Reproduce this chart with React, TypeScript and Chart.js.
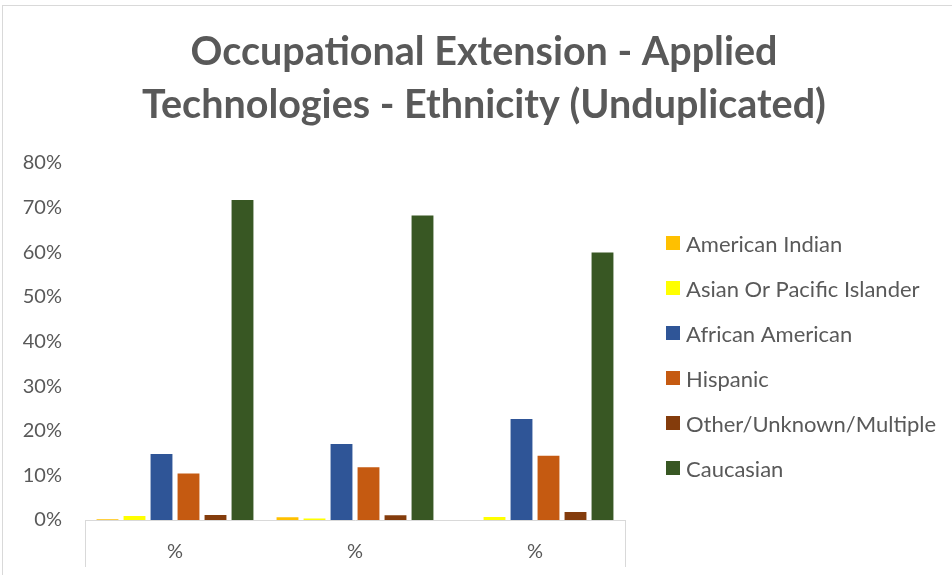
import React, { useEffect, useRef } from "react";
import { Chart, registerables } from "chart.js";

Chart.register(...registerables);

const categories = ["%", "%", "%"];
const seriesNames = [
  "American Indian",
  "Asian Or Pacific Islander",
  "African American",
  "Hispanic",
  "Other/Unknown/Multiple",
  "Caucasian",
];
const americanIndian = [0.15, 0.6, 0];
const asianPacific = [0.9, 0.35, 0.7];
const africanAmerican = [14.8, 17.0, 22.6];
const hispanic = [10.4, 11.8, 14.4];
const otherUnknown = [1.1, 1.05, 1.8];
const caucasian = [71.7, 68.2, 59.9];
const seriesColors = ["#FFC000", "#FFFF00", "#2F5597", "#C55A11", "#843C0C", "#385723"];
const yTicks = [0, 10, 20, 30, 40, 50, 60, 70, 80];
const titleLines = ["Occupational Extension - Applied", "Technologies - Ethnicity (Unduplicated)"];

const TEXT = "#595959";
const LINE = "#D9D9D9";
const FONT = "Lato, 'Open Sans', sans-serif";
const LEGEND_FONT_SIZE = 22;

const framePlugin = {
  id: "frame",
  beforeDraw(chart: any) {
    const ctx = chart.ctx;
    ctx.save();
    ctx.strokeStyle = LINE;
    ctx.lineWidth = 1;
    ctx.strokeRect(2.5, 5.5, chart.width + 20, chart.height + 20);
    ctx.restore();
  },
  afterDraw(chart: any) {
    const { ctx, chartArea } = chart;
    ctx.save();
    ctx.strokeStyle = LINE;
    ctx.lineWidth = 1;
    ctx.beginPath();
    const l = Math.round(chartArea.left) + 0.5;
    const r = Math.round(chartArea.right) + 0.5;
    const b = chartArea.bottom;
    ctx.moveTo(l, b);
    ctx.lineTo(l, b + 47);
    ctx.moveTo(r, b);
    ctx.lineTo(r, b + 47);
    ctx.stroke();

    // legend, drawn from the datasets
    const ds = chart.data.datasets;
    const step = 45;
    const centerY = (chartArea.top + chartArea.bottom) / 2 + 14.5;
    const y0 = centerY - ((ds.length - 1) * step) / 2;
    const bx = chartArea.right + 41;
    ctx.font = `${LEGEND_FONT_SIZE}px ${FONT}`;
    ctx.textBaseline = "middle";
    ctx.textAlign = "left";
    ds.forEach((d: any, i: number) => {
      const y = y0 + i * step;
      ctx.fillStyle = d.backgroundColor;
      ctx.fillRect(bx, Math.round(y - 7), 14, 14);
      ctx.fillStyle = TEXT;
      ctx.fillText(d.label, bx + 20, y + 1);
    });
    ctx.restore();
  },
};

export default function App() {
  const ref = useRef<HTMLCanvasElement>(null);
  useEffect(() => {
    if (!ref.current) return;
    const values = [americanIndian, asianPacific, africanAmerican, hispanic, otherUnknown, caucasian];
    const chart = new Chart(ref.current, {
      type: "bar",
      data: {
        labels: categories,
        datasets: seriesNames.map((name, i) => ({
          label: name,
          data: values[i],
          backgroundColor: seriesColors[i],
          borderWidth: 0,
          categoryPercentage: 0.9,
          barPercentage: 0.81,
        })),
      },
      options: {
        responsive: false,
        animation: false,
        maintainAspectRatio: false,
        layout: { padding: { left: 16, right: 0, top: 0, bottom: 0 } },
        plugins: {
          title: {
            display: true,
            text: titleLines,
            color: TEXT,
            font: { family: FONT, size: 39.5, weight: "bold", lineHeight: 1.34 },
            padding: { top: 26, bottom: 31 },
          },
          legend: { display: false },
          tooltip: { enabled: false },
        },
        scales: {
          x: {
            grid: { display: false, drawTicks: false },
            border: { display: true, color: LINE, width: 1 },
            ticks: { color: TEXT, font: { family: FONT, size: 20 }, padding: 20 },
            afterFit: (s: any) => {
              s.height = 55;
            },
          },
          y: {
            min: 0,
            max: 80,
            grid: { display: false, drawTicks: false },
            border: { display: false },
            afterBuildTicks: (s: any) => {
              s.ticks = yTicks.map((v) => ({ value: v }));
            },
            ticks: {
              color: TEXT,
              font: { family: FONT, size: 20 },
              padding: 23,
              callback: (v: any) => v + "%",
            },
            afterFit: (s: any) => {
              s.width = 85 - 16;
            },
          },
          legendSpace: {
            type: "linear",
            position: "right",
            display: true,
            grid: { display: false, drawTicks: false },
            border: { display: false },
            ticks: { display: false },
            afterFit: (s: any) => {
              s.width = 952 - 625;
            },
          },
        },
      },
      plugins: [framePlugin],
    });
    return () => chart.destroy();
  }, []);
  return (
    <div style={{ position: "absolute", left: 0, top: 0, width: 952, height: 575, overflow: "hidden", background: "#fff" }}>
      <canvas ref={ref} width={952} height={575} style={{ width: 952, height: 575 }} />
    </div>
  );
}
